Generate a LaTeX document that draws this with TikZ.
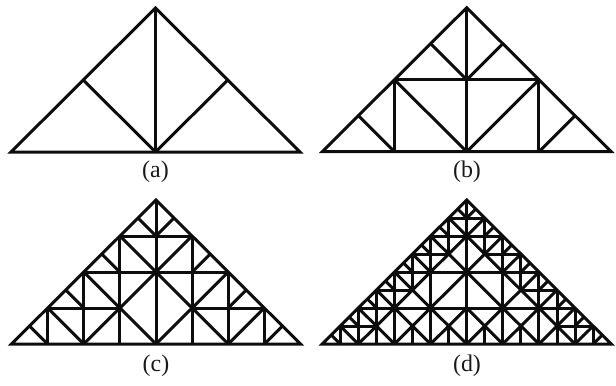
\documentclass[tikz,border=0pt]{standalone}
\usepackage{fontspec}
\setmainfont{Liberation Serif}
\newcommand{\barsa}{0/0/0/8,0/0/4/4}
\newcommand{\barsb}{4/0/4/4,0/4/4/4,4/0/6/2,0/4/2/6}
\newcommand{\barsc}{6/0/6/2,2/0/2/6,2/2/6/2,0/6/2/6,7/1/6/0,4/0/2/2,5/3/4/2,2/2/0/4,3/5/2/4,1/7/0/6}
\newcommand{\barsd}{7/0/7/1,7.5/.5/7/0,7/1/5/1,6.5/1.5/6/1,6/0/4/2,5/0/5/3,5.5/2.5/5/2,5/3/3/3,4.5/3.5/4/3,4/2/2/4,2/2/0/2,4/2/2/0,3/0/3/1,2/0/0/2,1/0/1/1,3/3/3/5,3.5/4.5/3/4,3/5/1/5,2.5/5.5/2/5,2/4/0/6,1/5/1/7,1.5/6.5/1/6,1/7/0/7,.5/7.5/0/7}
\newcommand{\drawbars}[1]{\foreach \u/\v/\p/\q in #1 {
  \draw[bar] (\u,\v) -- (\p,\q);
  \draw[bar] (-\u,\v) -- (-\p,\q);
}}
\begin{document}
\begin{tikzpicture}[x=1bp,y=1bp,
  bar/.style={line width=3bp,black!95},
  panel/.style={x=18.06bp,y=18bp},
  tag/.style={font=\fontsize{24}{28}\selectfont,text=black!90}]
\useasboundingbox (0,0) rectangle (616,385);
% top row
\begin{scope}[shift={(155.5,233)},panel]
\draw[bar] (-8,0) -- (0,8) -- (8,0) -- cycle;
\drawbars{\barsa}
\end{scope}
\begin{scope}[shift={(466.7,233.3)},panel]
\draw[bar] (-8,0) -- (0,8) -- (8,0) -- cycle;
\drawbars{\barsa}
\drawbars{\barsb}
\end{scope}
% bottom row
\begin{scope}[shift={(156,41)},panel]
\draw[bar] (-8,0) -- (0,8) -- (8,0) -- cycle;
\drawbars{\barsa}
\drawbars{\barsb}
\drawbars{\barsc}
\end{scope}
\begin{scope}[shift={(466.7,41)},panel]
\draw[bar] (-8,0) -- (0,8) -- (8,0) -- cycle;
\drawbars{\barsa}
\drawbars{\barsb}
\drawbars{\barsc}
\drawbars{\barsd}
\end{scope}
\node[tag] (taga) at (155.5,213.5) {(a)};
\node[tag] (tagb) at (467,213.5) {(b)};
\node[tag] (tagc) at (156,19.5) {(c)};
\node[tag] (tagd) at (467,19.5) {(d)};
\end{tikzpicture}
\end{document}
